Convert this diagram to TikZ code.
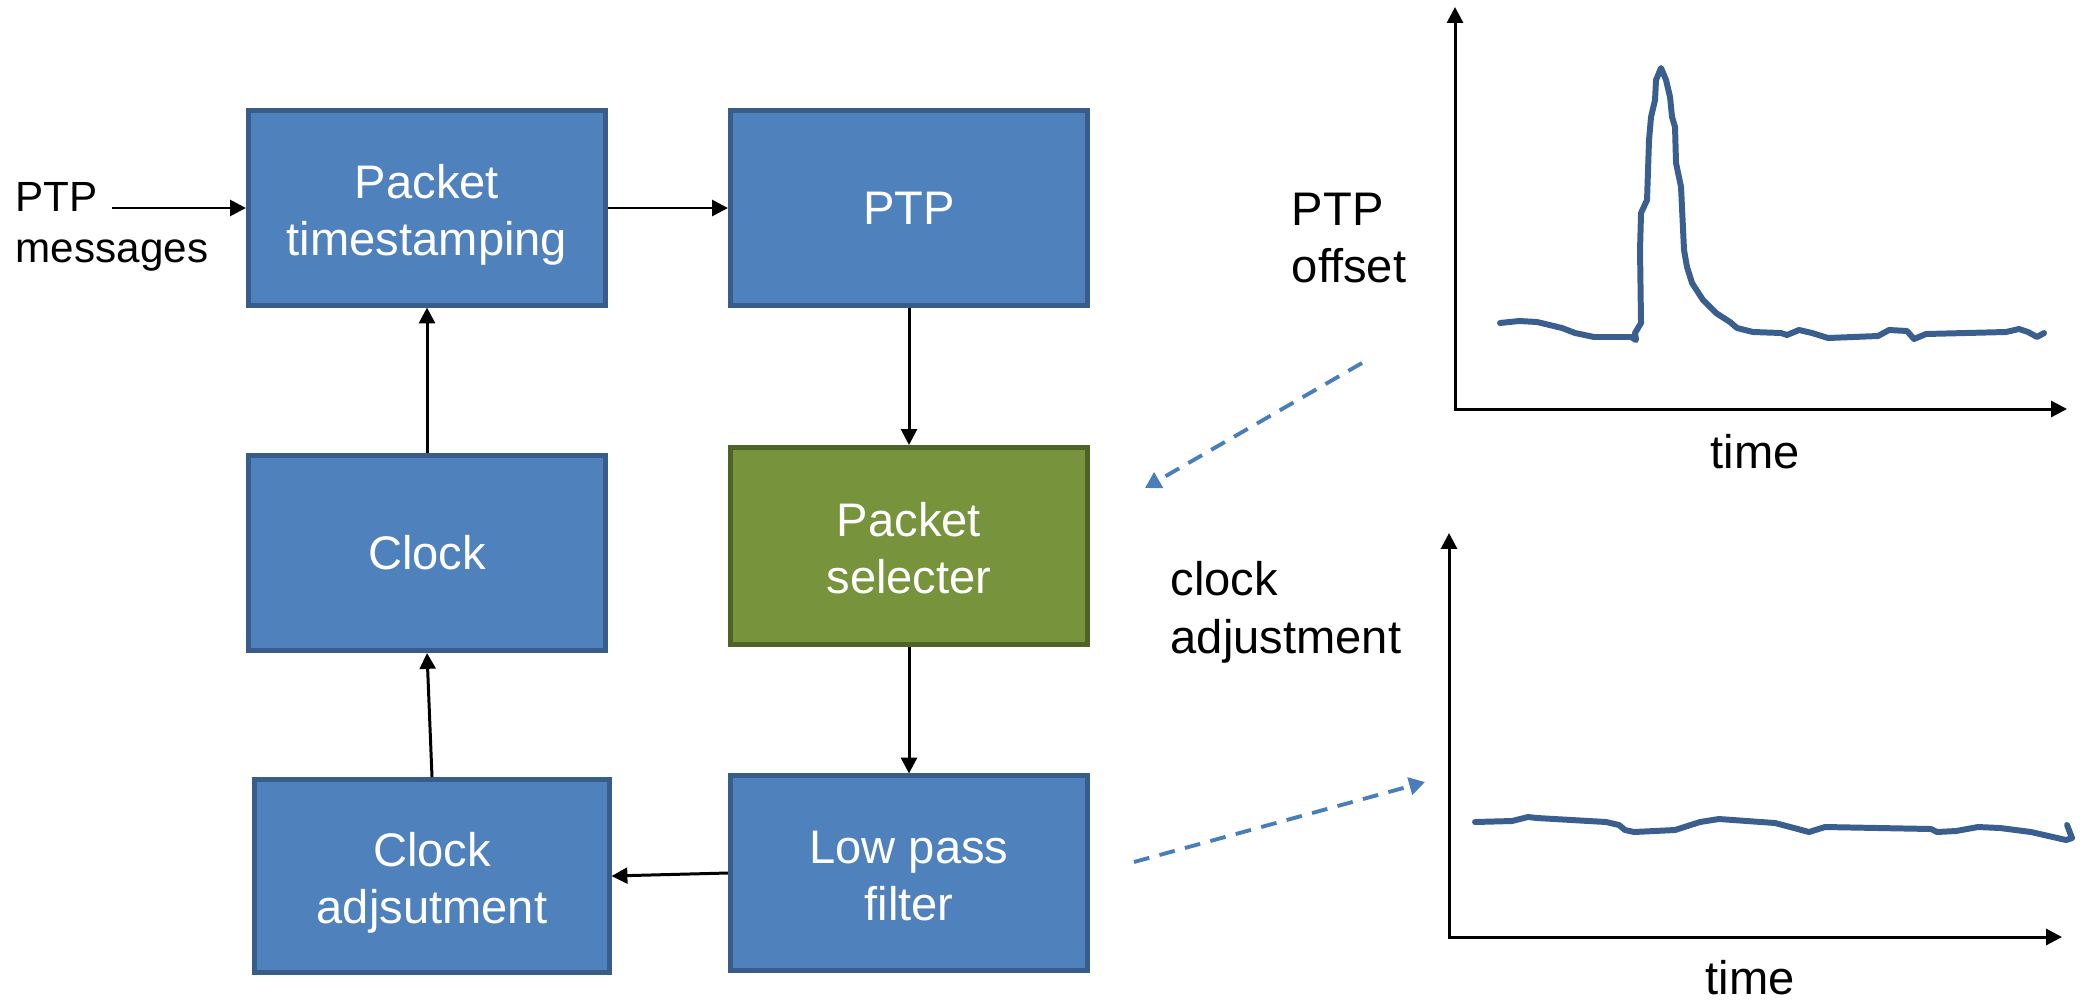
\documentclass[tikz,border=0pt]{standalone}
\usepackage{fontspec}
\setmainfont{Liberation Sans}
\usetikzlibrary{arrows.meta}
\definecolor{boxblue}{HTML}{4F81BD}
\definecolor{boxblueedge}{HTML}{385D8A}
\definecolor{boxgreen}{HTML}{77933C}
\definecolor{boxgreenedge}{HTML}{4F6228}
\definecolor{dashblue}{HTML}{4A7EBB}
\definecolor{curveblue}{HTML}{3A5F8F}
\newcommand{\lowerA}{\rule{0pt}{13.6pt}}
\newcommand{\lowerB}{\rule{0pt}{11pt}}
\begin{document}
\begin{tikzpicture}[x=0.01cm,y=-0.01cm,
  blk/.style={draw=boxblueedge, fill=boxblue, line width=1.4pt, minimum width=3.57cm, minimum height=1.94cm,
    text=white, align=center, font=\fontsize{13.4}{16.2}\selectfont, inner sep=0pt},
  gblk/.style={blk, draw=boxgreenedge, fill=boxgreen},
  lbl/.style={align=left, inner sep=0pt, font=\fontsize{13.4}{16.4}\selectfont},
  conn/.style={line width=0.85pt, -{Triangle[length=4.5pt,width=4.5pt]}},
  axis/.style={line width=0.85pt, {Triangle[length=4.5pt,width=4.5pt]}-{Triangle[length=4.5pt,width=4.5pt]}},
  curve/.style={draw=curveblue, line width=1.7pt, line join=round, line cap=round},
  dasharrow/.style={draw=dashblue, line width=1.1pt, dash pattern=on 4.5pt off 3pt, -{Triangle[length=4.5pt,width=5pt]}, dashblue}
]
\useasboundingbox (0,0) rectangle (2080,1003);

% blocks
\node[blk] (pts) at (427,208) {\lowerA Packet\\timestamping};
\node[blk] (ptp) at (909,208) {PTP};
\node[blk, minimum height=1.95cm] (clk) at (427,553) {Clock};
\node[gblk, minimum height=1.97cm] (sel) at (909,546) {\lowerB Packet\\selecter};
\node[blk, minimum width=3.54cm, minimum height=1.93cm] (cadj) at (432,876) {\lowerA Clock\\adjsutment};
\node[blk] (lpf) at (909,873) {\lowerB Low pass\\filter};

% input label
\node[lbl, font=\fontsize{12}{14.5}\selectfont] (msg) at (112,227) {PTP\\messages};
\coordinate (msgstart) at (112,208);

% connectors
\draw[conn] (msgstart) -- (pts.west);
\draw[conn] (pts.east) -- (ptp.west);
\draw[conn] (ptp.south) -- (sel.north);
\draw[conn] (sel.south) -- (lpf.north);
\draw[conn] (lpf.west) -- (cadj.east);
\draw[conn] (cadj.north) -- (clk.south);
\draw[conn] (clk.north) -- (pts.south);

% top graph
\coordinate (o1) at (1455,409);
\coordinate (y1) at (1455,7);
\coordinate (x1) at (2067,409);
\draw[axis] (y1) -- (o1) -- (x1);
\node[lbl] (l1) at (1349,238) {PTP\\offset};
\node[lbl] (t1) at (1755,452) {time};
\draw[curve] (1500,323) -- (1519,321) -- (1537,322) -- (1562,328) -- (1575,333) -- (1594,337)
  -- (1631,337) -- (1636,340) -- (1635,333) -- (1641,323) -- (1640,250) -- (1641,213) -- (1647,200)
  -- (1649,140) -- (1651,117) -- (1655,100) -- (1656,80) -- (1661,68) -- (1666,80) -- (1670,97)
  -- (1672,117) -- (1675,127) -- (1676,163) -- (1681,187) -- (1684,250) -- (1687,267) -- (1692,283)
  -- (1703,300) -- (1716,313) -- (1730,322) -- (1737,328) -- (1753,332) -- (1781,333) -- (1787,335)
  -- (1799,330) -- (1812,333) -- (1828,338) -- (1878,336) -- (1889,330) -- (1907,331) -- (1914,339)
  -- (1926,334) -- (2006,332) -- (2019,329) -- (2028,332) -- (2037,337) -- (2044,333);

% bottom graph
\coordinate (o2) at (1449,937);
\coordinate (y2) at (1449,533);
\coordinate (x2) at (2062,937);
\draw[axis] (y2) -- (o2) -- (x2);
\node[lbl] (l2) at (1286,612) {clock\\adjustment};
\node[lbl] (t2) at (1750,978) {time};
\draw[curve] (1475,822) -- (1512,821) -- (1528,817) -- (1537,818) -- (1606,822) -- (1619,825)
  -- (1625,830) -- (1634,832) -- (1675,830) -- (1700,822) -- (1719,819) -- (1775,823) -- (1794,828)
  -- (1809,832) -- (1825,827) -- (1931,829) -- (1937,832) -- (1956,831) -- (1978,827) -- (2000,828)
  -- (2031,832) -- (2066,840) -- (2072,838) -- (2067,825);

% dashed pointers
\coordinate (d1s) at (1362,363);
\coordinate (d1e) at (1145,488);
\draw[dasharrow] (d1s) -- (d1e);
\coordinate (d2s) at (1134,862);
\coordinate (d2e) at (1425,782);
\draw[dasharrow] (d2s) -- (d2e);
\end{tikzpicture}
\end{document}
